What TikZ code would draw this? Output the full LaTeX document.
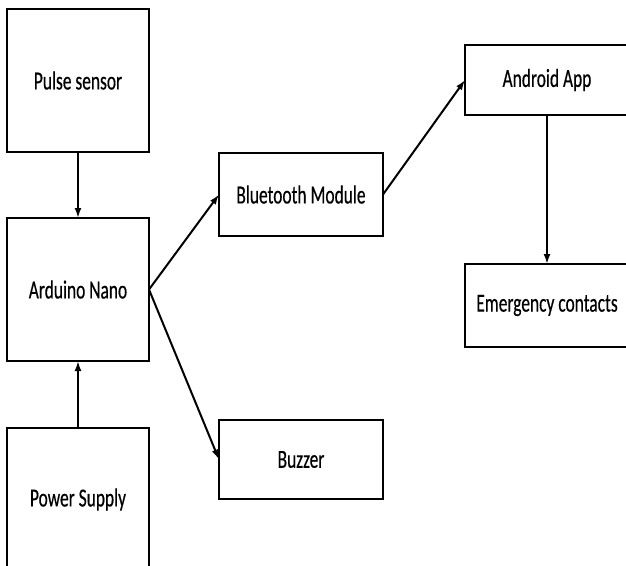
\documentclass[tikz,border=0pt]{standalone}
\usepackage{fontspec}
\setmainfont{Carlito}[FakeStretch=0.67,FakeBold=0.4]
\usetikzlibrary{arrows.meta}
\begin{document}
\begin{tikzpicture}[x=1pt,y=-1pt,
  blk/.style={draw=black,line width=1.3pt,inner sep=0pt,outer sep=0pt,
    font=\fontsize{26}{31}\selectfont,text=black},
  arr/.style={line width=2pt,-{Latex[length=10pt,width=7pt]}}]
\useasboundingbox (0,0) rectangle (626,565);
\clip (0,0) rectangle (626,565);
\node[blk,minimum width=142pt,minimum height=143pt] (pulse) at (78,80.5) {Pulse sensor};
\node[blk,minimum width=142pt,minimum height=143pt] (arduino) at (78,289.5) {Arduino Nano};
\node[blk,minimum width=142pt,minimum height=143pt] (power) at (78,499.5) {Power Supply};
\node[blk,minimum width=164pt,minimum height=83pt] (bt) at (301,194.5) {Bluetooth Module};
\node[blk,minimum width=164pt,minimum height=79pt] (buzzer) at (301,459.5) {Buzzer};
\node[blk,minimum width=164pt,minimum height=70pt] (android) at (547,80) {Android App};
\node[blk,minimum width=164pt,minimum height=83pt] (emerg) at (547,305.5) {Emergency contacts};
\draw[arr] (pulse.south) -- (arduino.north);
\draw[arr] (power.north) -- (arduino.south);
\draw[arr] (arduino.east) -- (bt.west);
\draw[arr] (arduino.east) -- (buzzer.west);
\draw[arr] (bt.east) -- (android.west);
\draw[arr] (android.south) -- (emerg.north);
\end{tikzpicture}
\end{document}
